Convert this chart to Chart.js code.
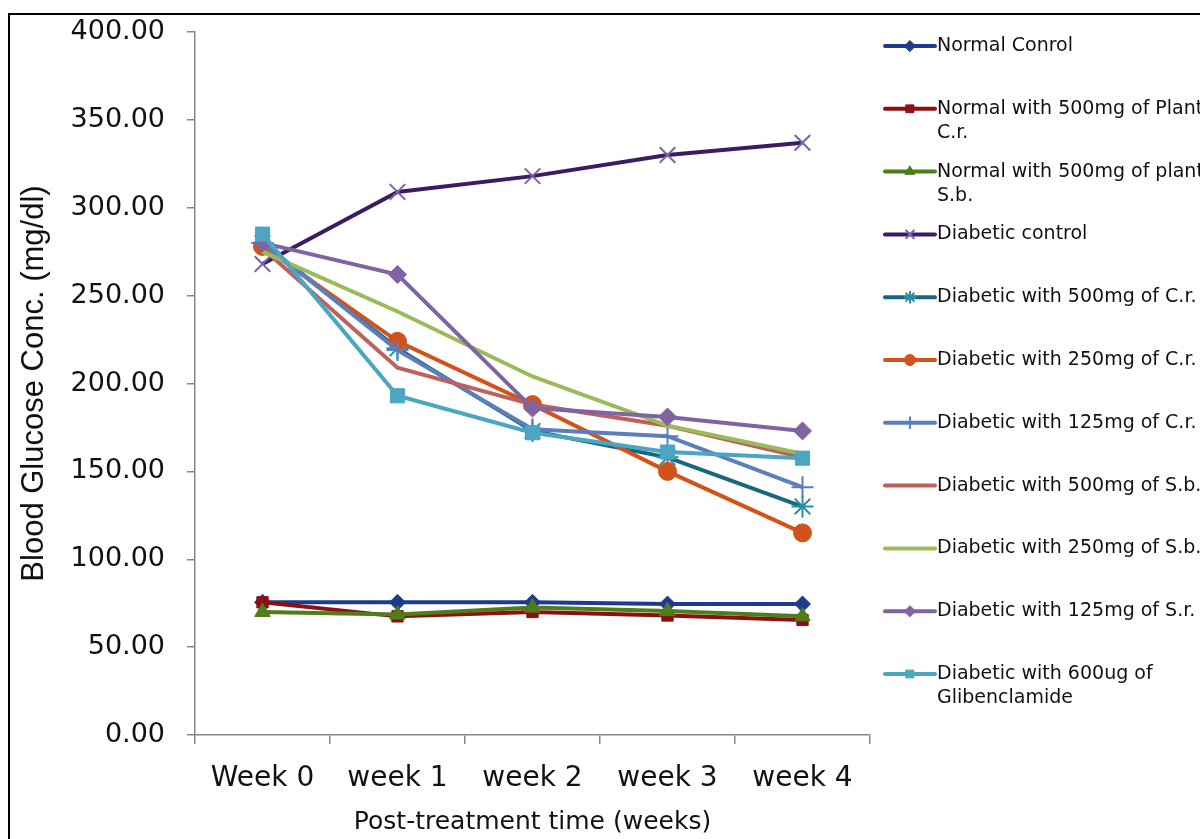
<!DOCTYPE html>
<html>
<head>
<meta charset="utf-8">
<script src="https://cdn.jsdelivr.net/npm/chart.js@4.4.1/dist/chart.umd.min.js"></script>
<style>
  html, body { margin: 0; padding: 0; background: #fff; overflow: hidden; }
  #frame { position: absolute; left: 8px; top: 13px; width: 1300px; height: 900px; border: 2px solid #000; }
  #wrap { position: absolute; left: 0; top: 0; width: 1200px; height: 839px; }
</style>
</head>
<body>
<div id="frame"></div>
<div id="wrap"><canvas id="c" width="1200" height="839"></canvas></div>
<script>
// Weekly blood glucose readings (mg/dl) per treatment group
const weeks = ["Week 0", "week 1", "week 2", "week 3", "week 4"];

const normalControl      = [75.5, 75.5, 75.5, 74.5, 74.5];
const normalCr500        = [75.5, 67.5, 70.0, 68.0, 65.5];
const normalSb500        = [70.0, 68.5, 72.5, 70.5, 67.5];
const diabeticControl    = [268, 309, 318, 330, 337];
const diabeticCr500      = [280, 220, 173, 158, 130];
const diabeticCr250      = [278, 224, 188, 150, 115];
const diabeticCr125      = [280, 219, 174, 170, 141];
const diabeticSb500      = [277, 209, 188, 176, 158];
const diabeticSb250      = [275, 241, 204, 176, 160];
const diabeticSr125      = [280, 262, 186, 181, 173];
const diabeticGlib600    = [285, 193, 172, 161, 157.5];

const yTicks = [0, 50, 100, 150, 200, 250, 300, 350, 400];

const groupNames = [
  ["Normal Conrol"],
  ["Normal with 500mg of Plant", "C.r."],
  ["Normal with 500mg of plant", "S.b."],
  ["Diabetic control"],
  ["Diabetic with 500mg of C.r."],
  ["Diabetic with 250mg of C.r."],
  ["Diabetic with 125mg of C.r."],
  ["Diabetic with 500mg of S.b."],
  ["Diabetic with 250mg of S.b."],
  ["Diabetic with 125mg of S.r."],
  ["Diabetic with 600ug of", "Glibenclamide"]
];
const groupValues = [normalControl, normalCr500, normalSb500, diabeticControl,
  diabeticCr500, diabeticCr250, diabeticCr125, diabeticSb500, diabeticSb250,
  diabeticSr125, diabeticGlib600];

const lineColors   = ["#1d3d8c", "#8a1111", "#4e7d19", "#3b1c62", "#17687e", "#d2521a",
                      "#5b7ebf", "#c0605d", "#9bbb59", "#8064a2", "#4ba6c2"];
const markerColors = ["#1d3d8c", "#8a1111", "#4e7d19", "#7a62a8", "#2a8ea8", "#d2521a",
                      "#5b7ebf", "#c0605d", "#9bbb59", "#8064a2", "#4ba6c2"];
const markerStyles = ["rectRot", "rect", "triangle", "crossRot", "star", "circle",
                      "cross", false, false, "rectRot", "rect"];
const markerSizes  = [8, 8, 9, 11, 11, 9, 11, 0, 0, 9, 10];

const thinMarkers = ["crossRot", "star", "cross"];

const datasets = groupValues.map((vals, i) => ({
  label: groupNames[i].join(" "),
  data: vals,
  borderColor: lineColors[i],
  backgroundColor: markerColors[i],
  borderWidth: 4,
  pointStyle: markerStyles[i],
  pointRadius: markerSizes[i],
  pointBorderColor: markerColors[i],
  pointBackgroundColor: markerColors[i],
  pointBorderWidth: thinMarkers.includes(markerStyles[i]) ? 2 : 1,
  tension: 0,
  order: -i
}));

// Legend drawn as a vertical list with wrapped entries on the right side
const sideLegend = {
  id: "sideLegend",
  afterDraw(chart) {
    const ctx = chart.ctx;
    ctx.save();
    const x0 = 885, x1 = 935, step = 62.8;
    chart.data.datasets.forEach((ds, i) => {
      const y = 46 + i * step;
      ctx.strokeStyle = ds.borderColor;
      ctx.lineWidth = 4;
      ctx.lineCap = "round";
      ctx.beginPath();
      ctx.moveTo(x0, y);
      ctx.lineTo(x1, y);
      ctx.stroke();
      if (ds.pointStyle) {
        ctx.fillStyle = ds.pointBackgroundColor;
        ctx.strokeStyle = ds.pointBorderColor;
        ctx.lineWidth = ds.pointBorderWidth;
        Chart.helpers.drawPoint(ctx, {
          pointStyle: ds.pointStyle,
          radius: 5.5,
          rotation: 0,
          borderWidth: ds.pointBorderWidth
        }, (x0 + x1) / 2, y);
      }
      ctx.fillStyle = "#111";
      ctx.font = "19px 'DejaVu Sans'";
      ctx.textBaseline = "middle";
      ctx.textAlign = "left";
      groupNames[i].forEach((line, k) => {
        ctx.fillText(line, 937, y + k * 24);
      });
    });
    ctx.restore();
  }
};

new Chart(document.getElementById("c"), {
  type: "line",
  data: { labels: weeks, datasets },
  options: {
    responsive: false,
    animation: false,
    events: [],
    layout: { padding: { left: 16, right: 330, top: 32, bottom: 0 } },
    plugins: { legend: { display: false }, tooltip: { enabled: false } },
    scales: {
      x: {
        offset: true,
        grid: { offset: true, drawOnChartArea: false, tickLength: 9, color: "#888", lineWidth: 1.5 },
        border: { color: "#888", width: 1.5 },
        ticks: { color: "#111", font: { family: "DejaVu Sans", size: 28 }, padding: 18 },
        title: { display: true, text: "Post-treatment time (weeks)", color: "#111",
                 font: { family: "DejaVu Sans", size: 25 }, padding: { top: 0, bottom: 2 } },
        afterFit(s) { s.height = 104; s.paddingLeft = 0; s.paddingRight = 0; }
      },
      y: {
        min: 0, max: 400,
        afterBuildTicks(s) { s.ticks = yTicks.map(v => ({ value: v })); },
        grid: { drawOnChartArea: false, tickLength: 8, color: "#888", lineWidth: 1.5 },
        border: { color: "#888", width: 1.5 },
        ticks: { color: "#111", font: { family: "DejaVu Sans", size: 27 }, padding: 22,
                 callback: v => Number(v).toFixed(2) },
        title: { display: true, text: "Blood Glucose Conc. (mg/dl)", color: "#111",
                 font: { family: "Liberation Sans", size: 31 }, padding: { top: 0, bottom: 4 } },
        afterFit(s) { s.width = 195 - 16; s.paddingTop = 0; s.paddingBottom = 0; }
      }
    }
  },
  plugins: [sideLegend]
});
</script>
</body>
</html>
